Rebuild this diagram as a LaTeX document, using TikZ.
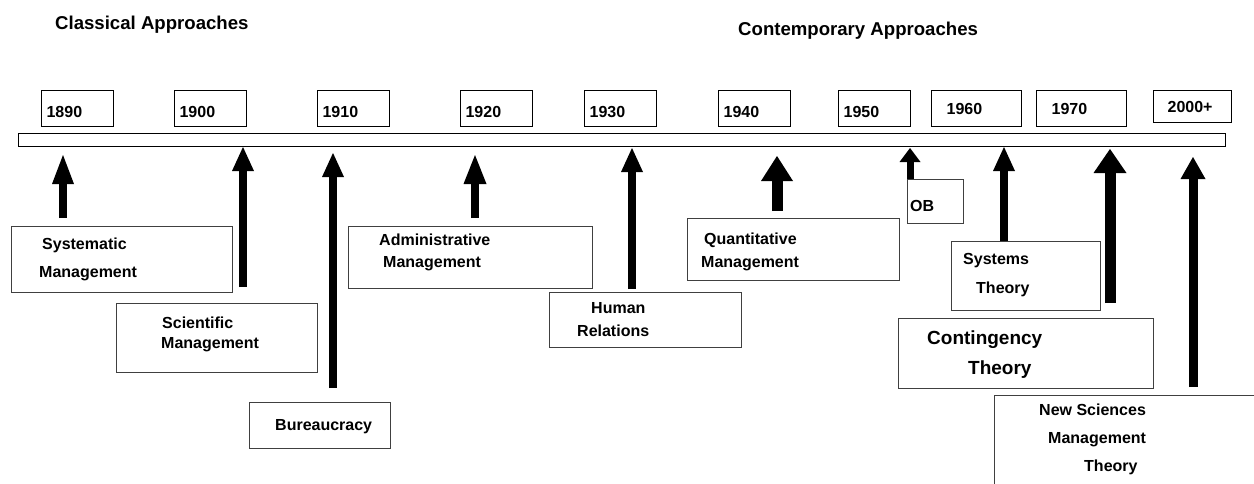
\documentclass[tikz,border=0pt]{standalone}
\usepackage{fontspec}
\setmainfont{Liberation Sans}
\usetikzlibrary{arrows.meta, positioning}

\begin{document}
\begin{tikzpicture}[x=1pt, y=-1pt,
  yearbox/.style={draw, line width=1.2pt, anchor=north west, minimum width=72pt, minimum height=36pt,
    text width=62pt, inner xsep=5pt, inner ysep=0pt, text height=18pt, text depth=0pt, align=left,
    font=\bfseries\fontsize{16}{19}\selectfont},
  lateyear/.style={yearbox, minimum width=90pt, text width=60pt, inner xsep=15pt, text height=11.5pt},
  topicbox/.style={draw=black!75, line width=1pt, anchor=north west, inner sep=0pt},
  lbl/.style={anchor=base west, inner sep=0pt, font=\bfseries\fontsize{16}{19}\selectfont},
  biglbl/.style={lbl, font=\bfseries\fontsize{19}{23}\selectfont},
  head/.style={lbl, font=\bfseries\fontsize{18.6}{22}\selectfont},
  riser/.style={line width=8pt, -{Triangle[width=22pt, length=24pt, line width=0pt]}}]
  \clip (0,0) rectangle (1254,483);

  % headings
  \node [head] (classical) at (55,29) {Classical Approaches};
  \node [head] (contemporary) at (738,35) {Contemporary Approaches};

  % years along the top
  \node [yearbox] (y1890) at (41,90) {1890};
  \node [yearbox] (y1900) at (174,90) {1900};
  \node [yearbox] (y1910) at (317,90) {1910};
  \node [yearbox] (y1920) at (460,90) {1920};
  \node [yearbox] (y1930) at (584,90) {1930};
  \node [yearbox] (y1940) at (718,90) {1940};
  \node [yearbox] (y1950) at (838,90) {1950};
  \node [lateyear] (y1960) at (931,90) {1960};
  \node [lateyear] (y1970) at (1036,90) {1970};
  \node [lateyear, minimum width=78pt, text width=50pt, inner xsep=14pt, minimum height=32pt] (y2000) at (1153,90) {2000+};

  % the time line
  \node [draw, line width=1.2pt, anchor=north west, inner sep=0pt, minimum width=1207pt, minimum height=13pt] (bar) at (18,133) {};

  % boxes for the approaches
  \node [topicbox, minimum width=221pt, minimum height=66pt] (systematic) at (11,226) {};
  \node [lbl] (systematic1) at (42,249) {Systematic};
  \node [lbl] (systematic2) at (39,277) {Management};

  \node [topicbox, minimum width=201pt, minimum height=69pt] (scientific) at (116,303) {};
  \node [lbl] (scientific1) at (162,328) {Scientific};
  \node [lbl] (scientific2) at (161,348) {Management};

  \node [topicbox, minimum width=141pt, minimum height=46pt] (bureau) at (249,402) {};
  \node [lbl] (bureau1) at (275,430) {Bureaucracy};

  \node [topicbox, minimum width=244pt, minimum height=62pt] (admin) at (348,226) {};
  \node [lbl] (admin1) at (379,245) {Administrative};
  \node [lbl] (admin2) at (383,267) {Management};

  \node [topicbox, minimum width=192pt, minimum height=55pt] (human) at (549,292) {};
  \node [lbl] (human1) at (591,313) {Human};
  \node [lbl] (human2) at (577,336) {Relations};

  \node [topicbox, minimum width=212pt, minimum height=62pt] (quant) at (687,218) {};
  \node [lbl] (quant1) at (704,244) {Quantitative};
  \node [lbl] (quant2) at (701,267) {Management};

  \node [topicbox, minimum width=56pt, minimum height=44pt] (ob) at (907,179) {};
  \node [lbl] (ob1) at (910,211) {OB};

  \node [topicbox, minimum width=149pt, minimum height=69pt] (systems) at (951,241) {};
  \node [lbl] (systems1) at (963,264) {Systems};
  \node [lbl] (systems2) at (976,293) {Theory};

  \node [topicbox, minimum width=255pt, minimum height=70pt] (contingency) at (898,318) {};
  \node [biglbl] (contingency1) at (927,344) {Contingency};
  \node [biglbl] (contingency2) at (968,374) {Theory};

  \node [topicbox, minimum width=290pt, minimum height=130pt] (newsci) at (994,395) {};
  \node [lbl] (newsci1) at (1039,415) {New Sciences};
  \node [lbl] (newsci2) at (1048,443) {Management};
  \node [lbl] (newsci3) at (1084,471) {Theory};

  % ends of the arrows
  \coordinate (a1foot) at (63,218);   \coordinate (a1tip) at (63,155);
  \coordinate (a2foot) at (243,287);  \coordinate (a2tip) at (243,147);
  \coordinate (a3foot) at (333,388);  \coordinate (a3tip) at (333,153);
  \coordinate (a4foot) at (475,218);  \coordinate (a4tip) at (475,155);
  \coordinate (a5foot) at (632,289);  \coordinate (a5tip) at (632,148);
  \coordinate (a6foot) at (777,211);  \coordinate (a6tip) at (777,156);
  \coordinate (a7foot) at (910,179);  \coordinate (a7tip) at (910,148);
  \coordinate (a8foot) at (1004,241); \coordinate (a8tip) at (1004,147);
  \coordinate (a9foot) at (1110,303); \coordinate (a9tip) at (1110,149);
  \coordinate (a10foot) at (1193,387); \coordinate (a10tip) at (1193,157);

  \draw [riser, -{Triangle[width=22pt, length=29pt, line width=0pt]}] (a1foot) -- (a1tip);
  \draw [riser] (a2foot) -- (a2tip);
  \draw [riser] (a3foot) -- (a3tip);
  \draw [riser, -{Triangle[width=23pt, length=29pt, line width=0pt]}] (a4foot) -- (a4tip);
  \draw [riser] (a5foot) -- (a5tip);
  \draw [riser, line width=11pt, -{Triangle[width=32pt, length=25pt, line width=0pt]}] (a6foot) -- (a6tip);
  \draw [riser, line width=7pt, -{Triangle[width=21pt, length=14pt, line width=0pt]}] (a7foot) -- (a7tip);
  \draw [riser] (a8foot) -- (a8tip);
  \draw [riser, line width=11pt, -{Triangle[width=33pt, length=24pt, line width=0pt]}] (a9foot) -- (a9tip);
  \draw [riser, line width=9pt, -{Triangle[width=25pt, length=22pt, line width=0pt]}] (a10foot) -- (a10tip);
\end{tikzpicture}
\end{document}
